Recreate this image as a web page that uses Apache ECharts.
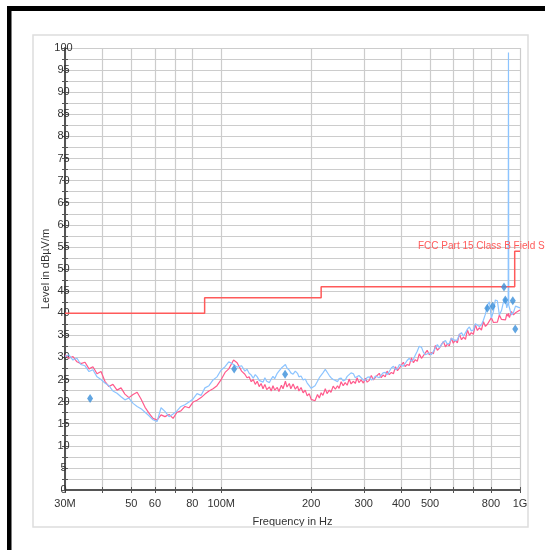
<!DOCTYPE html>
<html>
<head>
<meta charset="utf-8">
<style>
  html, body { margin: 0; padding: 0; background: #fff; }
  #chart { width: 545px; height: 550px; }
</style>
<script src="https://cdn.jsdelivr.net/npm/echarts@6/dist/echarts.min.js"></script>
</head>
<body>
<div id="chart"></div>
<script>
// ---- data (frequencies in MHz, levels in dBµV/m) ----
const freqMHz = [30, 30.9, 31.9, 32.9, 33.9, 35.0, 36.1, 37.2, 38.4, 39.6,
  40.8, 42.1, 43.4, 44.8, 46.2, 47.6, 49.1, 50.7, 52.3, 53.9,
  55.6, 57.3, 59.1, 61.0, 62.9, 64.8, 66.9, 69.0, 71.1, 73.3,
  75.6, 78.0, 80.5, 83.0, 85.6, 88.2, 91.0, 93.9, 96.8, 99.8,
  103, 106, 110, 113, 117,
  120, 122, 124, 126, 128, 130, 132, 134, 136, 138,
  140, 142, 145, 147, 149, 151, 154, 156, 159, 161,
  164, 166, 169, 171, 174, 177, 180, 182, 185, 188,
  191, 194, 197, 200, 203, 206, 210, 213, 216, 219,
  223, 226, 230, 233, 237, 241, 245, 248, 252, 256,
  260, 264, 268, 272, 277, 281, 285, 289, 294, 299,
  304, 308, 313, 318, 323, 328, 333, 338, 343, 348,
  354, 359, 365, 371, 377, 383, 389, 395, 401, 407,
  413, 419, 426, 433, 440, 446, 453, 460, 468, 475,
  482, 489, 497, 505, 513, 521, 529, 537, 545, 554,
  563, 571, 580, 589, 598, 607, 617, 627, 637, 647,
  657, 667, 677, 687, 698, 709, 720, 731, 743, 754,
  766, 778, 790, 802, 815, 827, 840, 853, 867, 880,
  894, 903, 913, 915, 917, 922, 936, 951, 966, 981,
  1000];

const levelPink = [30.6, 29.8, 30.2, 29.0, 28.6, 28.9, 27.4, 27.9, 26.3, 26.8,
  24.6, 23.4, 23.9, 22.6, 23.1, 21.7, 20.9, 21.6, 22.1, 20.6,
  18.7, 17.4, 16.2, 15.8, 17.0, 16.6, 17.1, 16.2, 17.6, 17.9,
  18.9, 18.6, 19.9, 20.3, 20.9, 21.7, 22.4, 22.9, 23.6, 24.9,
  26.6, 27.4, 29.4, 28.8, 26.9,
  26.2, 25.4, 25.6, 24.5, 25.0, 23.9, 24.6, 23.4, 24.1, 22.9,
  23.9, 22.7, 23.3, 22.4, 23.6, 22.6, 23.2, 22.3, 23.7, 22.9,
  24.6, 23.3, 24.1, 22.9, 24.0, 22.8, 23.5, 22.4, 23.2, 22.0,
  22.6, 21.3, 21.8, 20.5, 20.9, 20.2, 21.6, 20.8, 22.0, 21.4,
  22.9, 21.8, 22.6, 22.1, 23.5, 22.8, 23.6, 23.0, 24.5, 23.6,
  24.3, 23.7, 25.1, 24.0, 24.6, 24.1, 25.4, 24.3, 24.9, 24.2,
  25.3, 24.4, 24.8, 25.9, 24.9, 25.5, 25.1, 26.4, 25.4, 26.0,
  25.6, 26.9, 26.1, 26.6, 26.3, 27.9, 27.0, 27.6, 27.2, 28.9,
  27.9, 28.4, 28.2, 29.9, 28.8, 29.5, 29.1, 30.8, 29.8, 30.4,
  30.0, 31.6, 30.6, 31.1, 30.8, 32.7, 31.6, 32.1, 31.8, 33.6,
  32.4, 33.0, 32.6, 34.4, 33.2, 33.9, 33.3, 35.3, 34.0, 34.6,
  34.1, 36.2, 35.0, 35.6, 35.2, 37.4, 36.1, 36.7, 36.2, 38.1,
  37.0, 37.5, 37.1, 39.0, 37.9, 38.3, 38.0, 39.6, 38.6, 39.0,
  38.5, 39.8, 39.3, 40.0, 39.5, 39.0, 40.4, 39.6, 40.1, 39.8,
  40.7];

const levelBlue = [30.2, 30.6, 29.4, 29.8, 28.4, 28.1, 26.8, 27.2, 25.6, 25.0,
  24.2, 23.6, 22.4, 21.9, 21.1, 20.4, 20.8, 19.6, 18.9, 18.4,
  17.6, 16.8, 15.9, 15.5, 18.6, 17.8, 16.6, 17.2, 17.9, 18.9,
  19.3, 19.9, 20.6, 21.8, 21.4, 23.1, 23.6, 24.9, 25.6, 27.1,
  27.9, 29.0, 28.4, 27.8, 28.1,
  26.9, 27.3, 26.4, 26.0, 25.3, 26.1, 25.6, 24.8, 25.2, 24.4,
  25.4, 24.6, 24.3, 25.1, 25.7, 25.2, 26.4, 26.9, 27.6, 27.8,
  28.4, 27.6, 27.1, 26.5, 26.2, 26.9, 26.4, 25.6, 25.8, 24.9,
  25.1, 24.2, 23.6, 23.0, 22.8, 23.6, 24.6, 25.4, 25.8, 26.5,
  27.3, 26.7, 25.9, 25.4, 25.0, 24.8, 24.5, 25.2, 25.3, 24.7,
  24.9, 25.7, 25.9, 26.5, 26.3, 25.4, 25.6, 25.9, 25.4, 24.9,
  24.8, 25.5, 25.6, 24.9, 25.1, 25.8, 26.0, 25.4, 25.6, 26.5,
  26.6, 26.1, 26.8, 27.6, 28.0, 27.2, 27.5, 28.4, 28.8, 28.0,
  28.4, 29.3, 29.8, 29.1, 29.6, 30.5, 31.4, 32.5, 32.3, 31.2,
  30.6, 30.2, 31.0, 30.6, 31.4, 32.1, 32.9, 32.2, 32.4, 33.5,
  33.8, 33.0, 33.2, 34.3, 34.6, 33.8, 34.0, 35.2, 35.6, 34.8,
  35.0, 36.4, 36.9, 36.0, 36.2, 37.6, 38.0, 37.0, 37.4, 38.4,
  39.8, 41.8, 42.6, 38.9, 40.4, 43.0, 42.8, 39.6, 40.6, 42.5,
  43.4, 41.2, 42.5, 99.0, 41.8, 42.0, 39.6, 40.2, 41.6, 42.0,
  41.2];

const limitFreq  = [30, 88, 88, 216, 216, 960, 960, 1000];
const limitLevel = [40, 40, 43.5, 43.5, 46, 46, 54, 54];

const markerFreq  = [36.4, 110.5, 163.6, 777, 810, 884, 893, 946, 964];
const markerLevel = [20.7, 27.4, 26.2, 41.1, 41.6, 45.9, 43.0, 42.8, 36.4];

const tickFreqs  = [30, 40, 50, 60, 70, 80, 100, 200, 300, 400, 500, 600, 700, 800, 1000];
const labelFreqs = [30, 50, 60, 80, 100, 200, 300, 400, 500, 800, 1000];
const labelNames = ['30M', '50', '60', '80', '100M', '200', '300', '400', '500', '800', '1G'];

const limitName = 'FCC Part 15 Class B Field Strength';
const xTitle = 'Frequency in Hz';
const yTitle = 'Level in dBµV/m';

// ---- chart ----
const lg = Math.log10;
const pair = (fs, vs) => fs.map((f, i) => [lg(f), vs[i]]);
const FONT = 'Liberation Sans, Arial, sans-serif';
const axisCol = '#555555';
const gridCol = '#cccccc';

const chart = echarts.init(document.getElementById('chart'), null, { renderer: 'canvas' });

const xLabelFmt = v => {
  let best = 0, bd = 1e9;
  labelFreqs.forEach((f, i) => { const d = Math.abs(lg(f) - v); if (d < bd) { bd = d; best = i; } });
  return labelNames[best];
};

chart.setOption({
  animation: false,
  textStyle: { fontFamily: FONT },
  grid: { left: 65, right: 25, top: 48, bottom: 60, containLabel: false },
  graphic: [
    { type: 'rect', z: 100, shape: { x: 33, y: 35, width: 495, height: 492 },
      style: { fill: 'none', stroke: '#dddddd', lineWidth: 1.5 } },
    { type: 'rect', z: 100, shape: { x: 7, y: 6, width: 540, height: 5 }, style: { fill: '#000' } },
    { type: 'rect', z: 100, shape: { x: 7, y: 6, width: 4.5, height: 550 }, style: { fill: '#000' } },
    { type: 'text', z: 100, left: 418, top: 241,
      style: { text: limitName, fill: '#ff5a5a', font: '10px ' + FONT } }
  ],
  xAxis: [
    {
      type: 'value', position: 'bottom', min: lg(30), max: lg(1000),
      name: xTitle, nameLocation: 'middle', nameGap: 26, nameMoveOverlap: false,
      nameTextStyle: { fontSize: 11, color: '#333' },
      axisLine: { show: true, lineStyle: { color: axisCol, width: 2 } },
      axisTick: { show: true, length: 3, customValues: tickFreqs.map(lg), lineStyle: { color: axisCol, width: 1 } },
      axisLabel: { show: true, customValues: labelFreqs.map(lg), formatter: xLabelFmt, margin: 8, fontSize: 11, color: '#333' },
      splitLine: { show: true, lineStyle: { color: gridCol, width: 1.2 } }
    },
    {
      type: 'value', position: 'bottom', min: lg(30), max: lg(1000),
      axisLine: { show: false },
      axisTick: { show: true, inside: true, length: 3, customValues: tickFreqs.map(lg), lineStyle: { color: axisCol, width: 1 } },
      axisLabel: { show: false },
      splitLine: { show: false }
    }
  ],
  yAxis: [
    {
      type: 'value', position: 'left', min: 0, max: 100, interval: 5,
      name: yTitle, nameLocation: 'middle', nameGap: 14, nameRotate: 90, nameMoveOverlap: false,
      nameTextStyle: { fontSize: 11, color: '#333' },
      axisLine: { show: true, lineStyle: { color: axisCol, width: 2 } },
      axisTick: { show: true, length: 3, lineStyle: { color: axisCol } },
      minorTick: { show: true, splitNumber: 2, length: 3, lineStyle: { color: axisCol } },
      axisLabel: { show: true, align: 'center', margin: 1.5, fontSize: 11, color: '#333' },
      splitLine: { show: true, lineStyle: { color: gridCol, width: 1.2 } },
      minorSplitLine: { show: true, lineStyle: { color: gridCol, width: 1.2 } }
    },
    {
      type: 'value', position: 'left', min: 0, max: 100, interval: 5,
      axisLine: { show: false },
      axisTick: { show: true, inside: true, length: 3, lineStyle: { color: axisCol } },
      minorTick: { show: true, splitNumber: 2, length: 3, lineStyle: { color: axisCol } },
      axisLabel: { show: false },
      splitLine: { show: false }
    }
  ],
  series: [
    {
      name: 'peak', type: 'line', xAxisIndex: 0, yAxisIndex: 0,
      data: pair(freqMHz, levelBlue), symbol: 'none',
      lineStyle: { color: '#8cc4ff', width: 1.2 }, z: 3
    },
    {
      name: 'avg', type: 'line', xAxisIndex: 0, yAxisIndex: 0,
      data: pair(freqMHz, levelPink), symbol: 'none',
      lineStyle: { color: '#ff5a8c', width: 1.2 }, z: 2
    },
    {
      name: 'limit', type: 'line', xAxisIndex: 0, yAxisIndex: 0,
      data: pair(limitFreq, limitLevel), symbol: 'none',
      lineStyle: { color: '#ff5a5a', width: 1.5 }, z: 4
    },
    {
      name: 'final', type: 'scatter', xAxisIndex: 0, yAxisIndex: 0,
      data: pair(markerFreq, markerLevel), symbol: 'diamond', symbolSize: [6, 9],
      itemStyle: { color: '#3a8fd9' }, z: 5
    }
  ]
});
</script>
</body>
</html>
